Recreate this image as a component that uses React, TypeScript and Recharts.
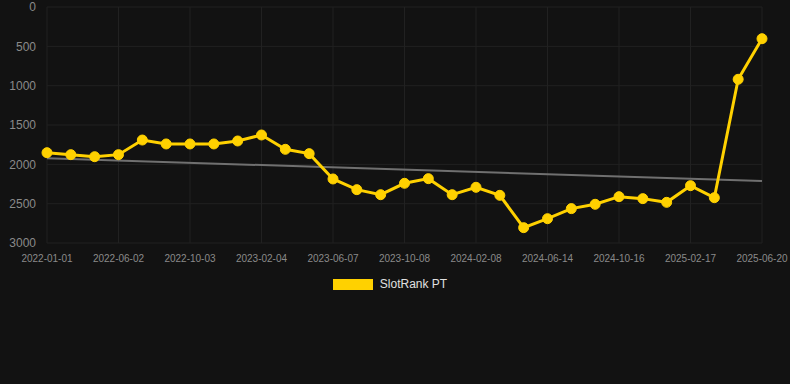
import React from "react";
import {
  LineChart,
  Line,
  XAxis,
  YAxis,
  CartesianGrid,
  Legend,
} from "recharts";

const dates = [
  "2022-01-01", "2022-02-20", "2022-04-11", "2022-06-02", "2022-07-13",
  "2022-08-23", "2022-10-03", "2022-11-13", "2022-12-25", "2023-02-04",
  "2023-03-17", "2023-04-27", "2023-06-07", "2023-07-18", "2023-08-28",
  "2023-10-08", "2023-11-18", "2023-12-29", "2024-02-08", "2024-03-20",
  "2024-05-02", "2024-06-14", "2024-07-25", "2024-09-05", "2024-10-16",
  "2024-11-26", "2025-01-07", "2025-02-17", "2025-03-30", "2025-05-10",
  "2025-06-20",
];

const rank = [
  1852, 1877, 1903, 1877, 1691, 1741, 1741, 1741, 1703, 1627,
  1809, 1864, 2186, 2322, 2386, 2241, 2182, 2386, 2292, 2394,
  2805, 2691, 2563, 2508, 2411, 2436, 2483, 2271, 2424, 919,
  403,
];

// regression line: only the two ends are known, the rest is joined up
const trendStart = 1923;
const trendEnd = 2212;

const yTicks = [0, 500, 1000, 1500, 2000, 2500, 3000];

const data = dates.map((d, i) => ({
  date: d,
  rank: rank[i],
  trend: i === 0 ? trendStart : i === dates.length - 1 ? trendEnd : null,
}));

const LegendBox = () => (
  <div
    style={{
      height: 22,
      display: "flex",
      alignItems: "center",
      justifyContent: "center",
      paddingLeft: 18,
      fontSize: 12,
      color: "#e0e0e0",
    }}
  >
    <span
      style={{
        display: "inline-block",
        width: 40,
        height: 11,
        background: "#ffd100",
        marginRight: 7,
      }}
    />
    SlotRank PT
  </div>
);

export default function App() {
  return (
    <div
      style={{
        position: "absolute",
        left: 0,
        top: 0,
        width: 790,
        height: 384,
        background: "#121212",
        fontFamily: "'Liberation Sans', Arial, sans-serif",
      }}
    >
      <LineChart
        width={790}
        height={384}
        data={data}
        margin={{ top: 7, right: 28, left: 0, bottom: 89 }}
      >
        <CartesianGrid stroke="#212121" strokeWidth={1} />
        <XAxis
          dataKey="date"
          interval={2}
          axisLine={false}
          tickLine={false}
          tickMargin={6}
          height={30}
          tick={{ fill: "#8a8a8a", fontSize: 10 }}
        />
        <YAxis
          reversed
          domain={[0, 3000]}
          ticks={yTicks}
          interval={0}
          width={47}
          axisLine={false}
          tickLine={false}
          tickMargin={5}
          tick={{ fill: "#8a8a8a", fontSize: 12 }}
        />
        <Legend verticalAlign="bottom" content={<LegendBox />} />
        <Line
          dataKey="trend"
          stroke="#707070"
          strokeWidth={2}
          dot={false}
          connectNulls
          isAnimationActive={false}
          legendType="none"
        />
        <Line
          dataKey="rank"
          name="SlotRank PT"
          stroke="#ffd100"
          strokeWidth={3}
          dot={{ r: 5, fill: "#ffd100", stroke: "#ffd100", strokeWidth: 1 }}
          isAnimationActive={false}
        />
      </LineChart>
    </div>
  );
}
